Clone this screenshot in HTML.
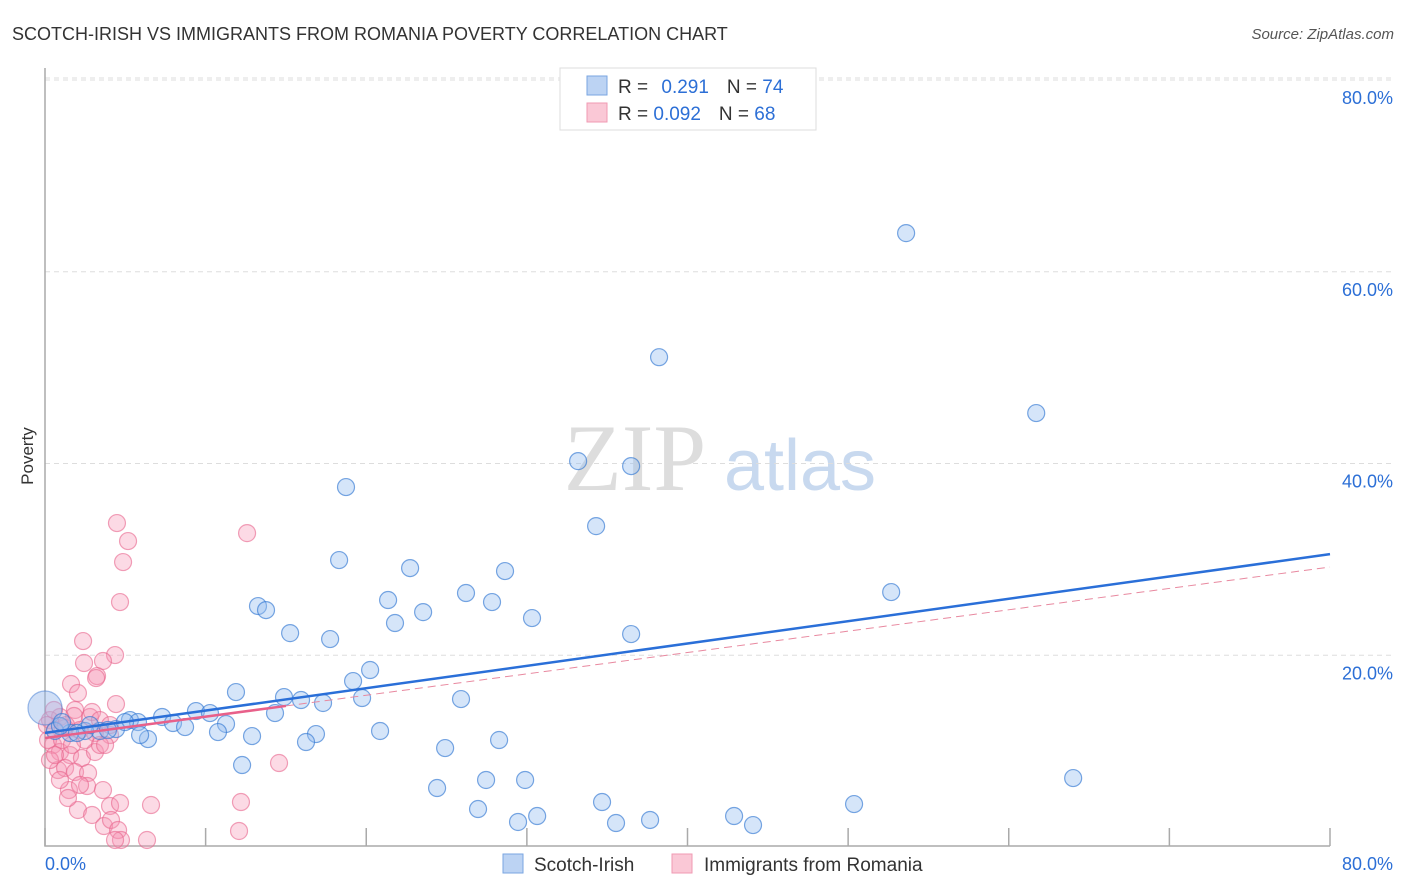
<!DOCTYPE html>
<html><head><meta charset="utf-8"><style>
body{margin:0;background:#fff;font-family:"Liberation Sans",sans-serif}
svg{display:block}
</style></head><body>
<svg id="c" width="1406" height="892">
<text x="12" y="40" font-size="18" fill="#333">SCOTCH-IRISH VS IMMIGRANTS FROM ROMANIA POVERTY CORRELATION CHART</text>
<text x="1394" y="39" font-size="15" fill="#555" font-style="italic" text-anchor="end">Source: ZipAtlas.com</text>
<text x="33" y="456" font-size="17" fill="#333" transform="rotate(-90 33 456)" text-anchor="middle">Poverty</text>
<g><text x="635" y="490" font-family="Liberation Serif,serif" font-size="95" fill="#ddd" text-anchor="middle">ZIP</text><text x="800" y="490" font-size="72" fill="#c8d9ef" text-anchor="middle">atlas</text></g>
<g id="grid"></g><g id="axes"></g><g id="pts"></g><g id="lines"></g>
<g>
<rect x="560" y="68" width="256" height="62" fill="#fff" stroke="#ddd"/>
<rect x="587" y="76" width="20" height="19" fill="#bcd3f3" stroke="#7aa6e2"/>
<rect x="587" y="103" width="20" height="19" fill="#fac8d6" stroke="#f09ab3"/>
<text x="618" y="93" font-size="19" fill="#333">R = <tspan fill="#2c6fd6" dx="8">0.291</tspan><tspan dx="18" fill="#333">N = </tspan><tspan fill="#2c6fd6">74</tspan></text>
<text x="618" y="120" font-size="19" fill="#333">R = <tspan fill="#2c6fd6">0.092</tspan><tspan dx="18" fill="#333">N = </tspan><tspan fill="#2c6fd6">68</tspan></text>
</g>
<g>
<rect x="503" y="854" width="20" height="19" fill="#bcd3f3" stroke="#7aa6e2"/>
<text x="534" y="871" font-size="19" fill="#333">Scotch-Irish</text>
<rect x="672" y="854" width="20" height="19" fill="#fac8d6" stroke="#f09ab3"/>
<text x="704" y="871" font-size="19" fill="#333">Immigrants from Romania</text>
</g>
</svg>
<script>
const xTicks=[0,10,20,30,40,50,60,70,80];
const yTicks=[20,40,60,80];
const yTickLabels=["20.0%","40.0%","60.0%","80.0%"];
const xEndLabels=["0.0%","80.0%"];
const bluePx=[[906,233],[659,357],[1036,413],[578,461],[631,466],[346,487],[596,526],[339,560],[410,568],[505,571],[388,600],[466,593],[492,602],[258,606],[266,610],[423,612],[532,618],[395,623],[290,633],[330,639],[631,634],[891,592],[370,670],[353,681],[236,692],[362,698],[284,697],[301,700],[323,703],[461,699],[196,711],[210,713],[275,713],[162,717],[130,720],[138,722],[173,723],[185,727],[226,724],[116,729],[100,731],[85,731],[70,733],[55,731],[60,726],[218,732],[252,736],[316,734],[148,739],[380,731],[306,742],[499,740],[445,748],[242,765],[486,780],[525,780],[1073,778],[437,788],[602,802],[478,809],[854,804],[537,816],[518,822],[734,816],[616,823],[650,820],[753,825],[62,722],[77,733],[90,725],[108,730],[125,722],[140,735]];
const pinkPx=[[117,523],[128,541],[247,533],[123,562],[120,602],[83,641],[115,655],[84,663],[103,661],[71,684],[78,693],[97,676],[96,678],[116,704],[75,710],[74,716],[90,717],[60,717],[50,720],[55,730],[65,728],[80,730],[95,733],[110,735],[53,745],[60,752],[70,755],[82,758],[95,752],[58,770],[65,768],[75,772],[88,773],[69,790],[87,786],[103,790],[78,810],[92,815],[110,806],[120,803],[68,798],[104,826],[111,820],[118,830],[121,840],[147,840],[151,805],[241,802],[239,831],[279,763],[50,760],[48,740],[62,740],[85,740],[72,745],[100,745],[55,755],[47,725],[66,725],[92,712],[100,720],[110,725],[54,710],[105,745],[60,780],[80,785],[115,840]];
// convert reading to data units (x %, y %)
const blueX=bluePx.map(p=>+((p[0]-45)/16.06).toFixed(2));
const blueY=bluePx.map(p=>+((847-p[1])/9.59).toFixed(2));
const pinkX=pinkPx.map(p=>+((p[0]-45)/16.06).toFixed(2));
const pinkY=pinkPx.map(p=>+((847-p[1])/9.59).toFixed(2));
const blueTrend=[11.9,30.55];
const pinkTrend=[11.37,29.2];
const pinkSolidEnd=15;
const X=v=>45+v*16.0625, Y=v=>847-v*9.5875;
const NS="http://www.w3.org/2000/svg";
function mk(parent,tag,attrs){const e=document.createElementNS(NS,tag);for(const k in attrs)e.setAttribute(k,attrs[k]);document.getElementById(parent).appendChild(e);return e;}
yTicks.forEach((t,i)=>{
 const l=mk('grid','line',{x1:45,x2:1393,y1:Y(t),y2:Y(t),stroke:'#ddd','stroke-dasharray':'5,4'});
 
 
 const tx=mk('axes','text',{x:1393,y:Y(t)+24,'font-size':18,fill:'#2c6fd6','text-anchor':'end'});
 tx.textContent=yTickLabels[i];
 
 
});
const tl=mk('grid','line',{x1:45,x2:1393,y1:78,y2:78,stroke:'#ddd','stroke-dasharray':'5,4'});


const ax=mk('axes','path',{d:'M45 68V846H1330',stroke:'#aaa',fill:'none','stroke-width':1.5});


xTicks.forEach(t=>{
 const l=mk('axes','line',{x1:X(t),x2:X(t),y1:828,y2:846,stroke:'#aaa','stroke-width':1.5});
 
 
});
[[0,'start',45],[80,'end',1393]].forEach((d,i)=>{
 const tx=mk('axes','text',{x:d[2],y:870,'font-size':18,fill:'#2c6fd6','text-anchor':d[1]});
 tx.textContent=xEndLabels[i];
 
 
});
function dot(x,y,r,fill,stroke,name){
 const c=mk('pts','circle',{cx:X(x),cy:Y(y),r:r,fill:fill,stroke:stroke,'stroke-width':1.2});
 
 
}
pinkX.forEach((x,i)=>dot(x,pinkY[i],8.5,'rgba(245,150,180,0.35)','rgba(232,100,140,0.6)','romania-point'));
dot(0,14.5,17,'rgba(150,185,235,0.45)','rgba(60,120,210,0.5)','scotch-irish-point-large');
blueX.forEach((x,i)=>dot(x,blueY[i],8.5,'rgba(150,190,240,0.4)','rgba(50,120,210,0.65)','scotch-irish-point'));
const bl=mk('lines','line',{x1:X(0),y1:Y(blueTrend[0]),x2:X(80),y2:Y(blueTrend[1]),stroke:'#2a6fd8','stroke-width':2.5});


const py=x=>pinkTrend[0]+(pinkTrend[1]-pinkTrend[0])*x/80;
const ps=mk('lines','line',{x1:X(0),y1:Y(py(0)),x2:X(pinkSolidEnd),y2:Y(py(pinkSolidEnd)),stroke:'#e8608a','stroke-width':2.5});


const pd=mk('lines','line',{x1:X(pinkSolidEnd),y1:Y(py(pinkSolidEnd)),x2:X(80),y2:Y(py(80)),stroke:'#e8889f','stroke-width':1,'stroke-dasharray':'8,5'});


</script>
</body></html>
